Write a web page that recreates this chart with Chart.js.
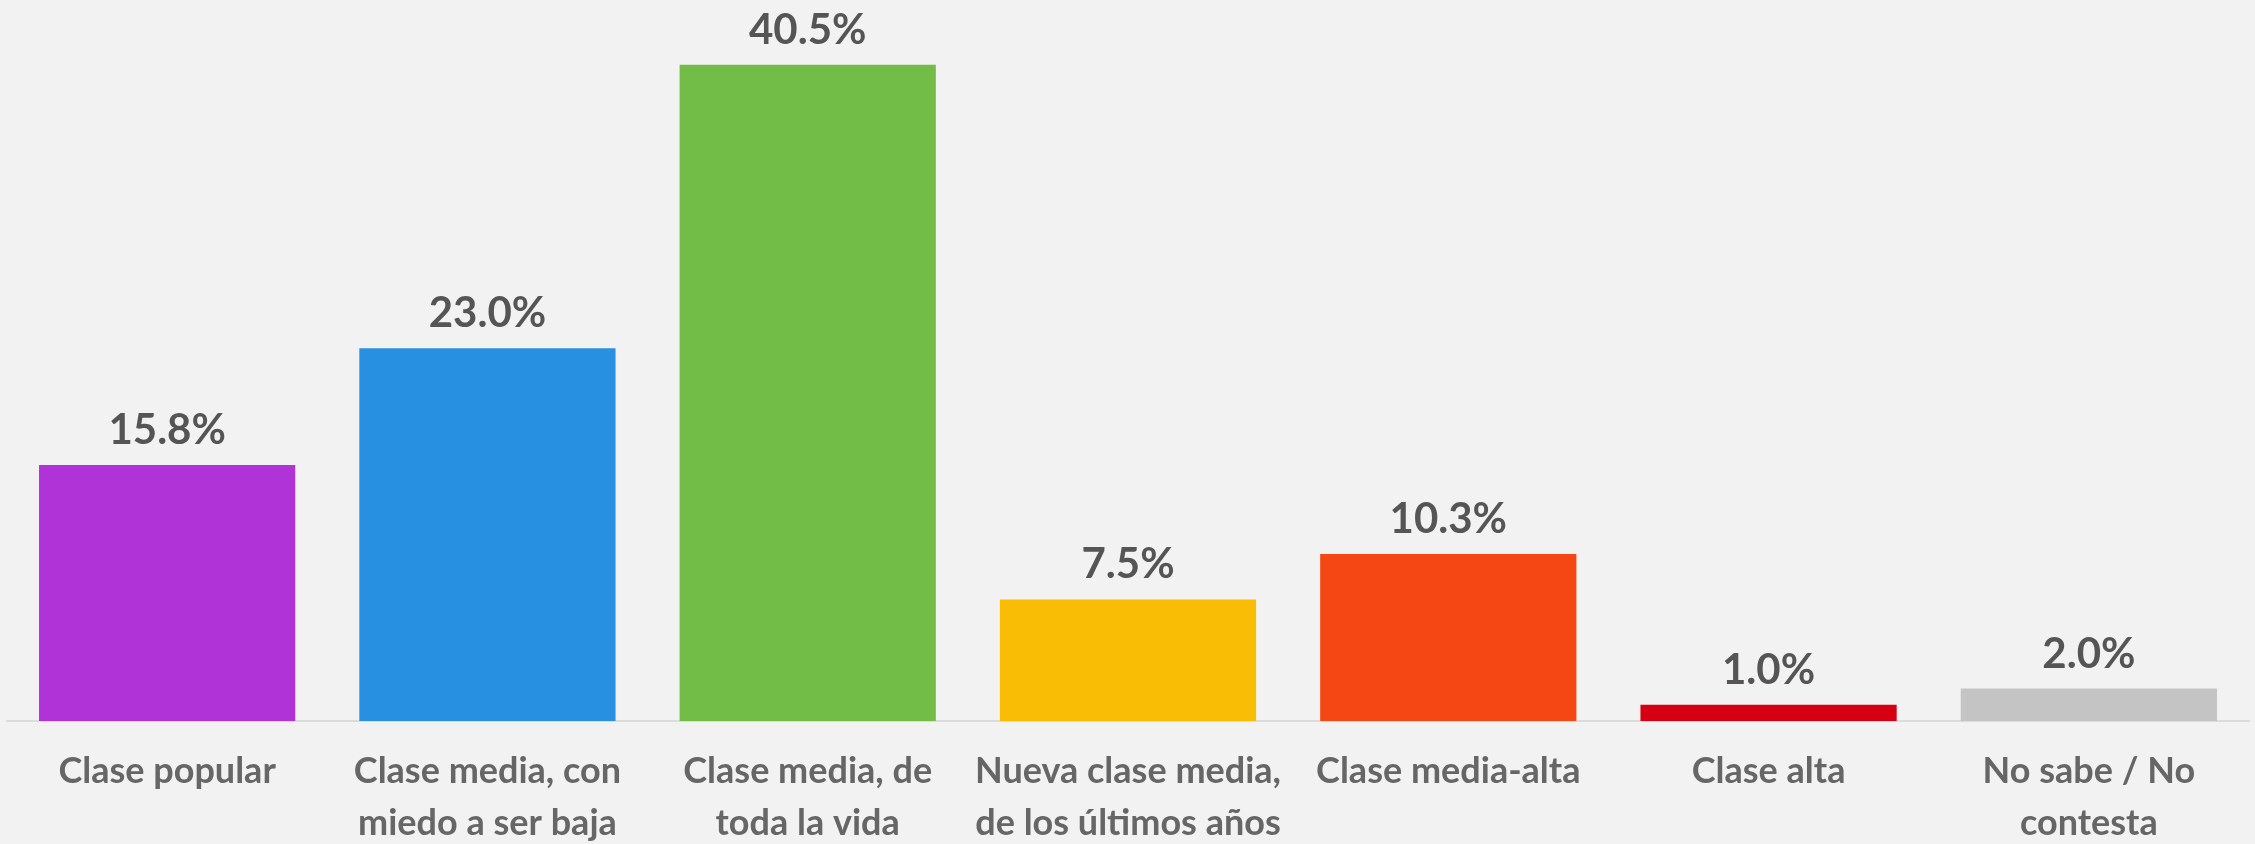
<!DOCTYPE html>
<html>
<head>
<meta charset="utf-8">
<script src="https://cdn.jsdelivr.net/npm/chart.js@4.4.1/dist/chart.umd.min.js"></script>
<style>
  html, body { margin: 0; padding: 0; background: #f2f2f2; }
  #wrap { width: 2255px; height: 844px; }
</style>
</head>
<body>
<div id="wrap"><canvas id="c" width="2255" height="844"></canvas></div>
<script>
const categories = [
  "Clase popular",
  ["Clase media, con", "miedo a ser baja"],
  ["Clase media, de", "toda la vida"],
  ["Nueva clase media,", "de los últimos años"],
  "Clase media-alta",
  "Clase alta",
  ["No sabe / No", "contesta"]
];
const values = [15.8, 23.0, 40.5, 7.5, 10.3, 1.0, 2.0];
const barColors = ["#b033d8", "#2790e0", "#72bd47", "#f8bd04", "#f44713", "#d60013", "#c4c4c4"];

const valueLabels = {
  id: 'valueLabels',
  afterDatasetsDraw(chart) {
    const ctx = chart.ctx;
    const meta = chart.getDatasetMeta(0);
    ctx.save();
    ctx.font = 'bold 42px Lato';
    ctx.fillStyle = '#555555';
    ctx.textAlign = 'center';
    ctx.textBaseline = 'alphabetic';
    meta.data.forEach((bar, i) => {
      ctx.fillText(values[i].toFixed(1) + '%', bar.x, bar.y - 21);
    });
    ctx.restore();
  }
};

new Chart(document.getElementById('c'), {
  type: 'bar',
  data: {
    labels: categories,
    datasets: [{
      data: values,
      backgroundColor: barColors,
      borderWidth: 0,
      categoryPercentage: 1.0,
      barPercentage: 0.8
    }]
  },
  options: {
    responsive: false,
    animation: false,
    layout: { padding: { left: 7, right: 6, top: 0, bottom: 0 } },
    plugins: { legend: { display: false }, tooltip: { enabled: false } },
    scales: {
      y: { display: false, min: 0, max: 44.5 },
      x: {
        grid: { display: false, drawTicks: false },
        border: { display: true, color: '#dcdcdc', width: 2 },
        ticks: {
          color: '#666666',
          font: { family: 'Lato', weight: 'bold', size: 36, lineHeight: 1.45 },
          padding: 24,
          maxRotation: 0,
          autoSkip: false
        },
        afterFit(scale) { scale.height = 123; }
      }
    }
  },
  plugins: [valueLabels]
});
</script>
</body>
</html>
